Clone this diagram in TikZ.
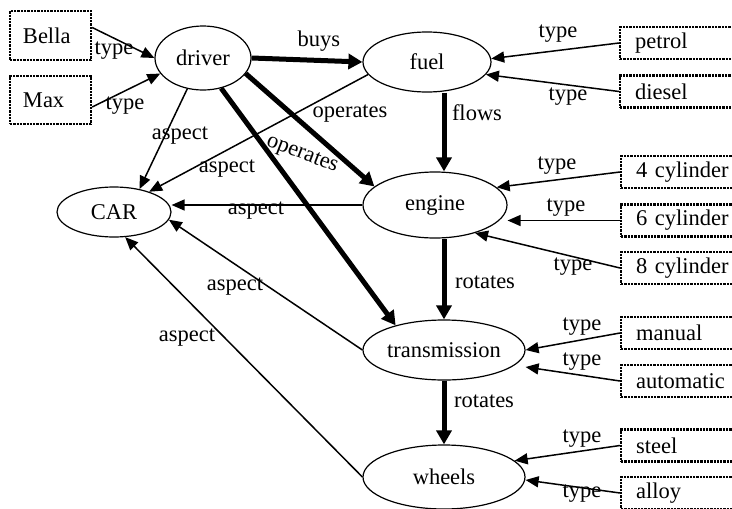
\documentclass[tikz,border=0pt]{standalone}
\usepackage{fontspec}
\setmainfont{Liberation Serif}
\usetikzlibrary{arrows.meta,shapes.geometric}
\tikzset{
  x=1pt, y=-1pt,
  every node/.style={font=\fontsize{22.5}{26}\selectfont},
  concept/.style={draw, ellipse, line width=1.2pt, inner sep=0pt},
  inst/.style={draw, line width=2.3pt, densely dotted, rectangle, inner ysep=0pt, align=left, minimum height=32pt},
  linst/.style={inst, text width=55pt, inner xsep=13pt, minimum height=49pt},
  rinst/.style={inst, text width=95pt, inner xsep=15pt},
  thin/.style={line width=1.5pt, -{Triangle[length=13pt,width=11pt]}},
  thick/.style={line width=5pt, -{Triangle[length=14pt,width=15pt]}},
  lbl/.style={inner sep=0pt}
}
\begin{document}
\begin{tikzpicture}
\clip (0,0) rectangle (732,509);
\useasboundingbox (0,0) rectangle (732,509);
% concepts
\node[concept, minimum width=96pt, minimum height=64pt] (driver) at (203,58) {driver};
\node[concept, minimum width=128pt, minimum height=60pt] (fuel) at (427,62) {fuel};
\node[concept, minimum width=114pt, minimum height=50pt] (CAR) at (114,212) {CAR};
\node[concept, minimum width=144pt, minimum height=66pt] (engine) at (435,205) {engine};
\node[concept, minimum width=162pt, minimum height=60pt] (trans) at (444,350) {transmission};
\node[concept, minimum width=162pt, minimum height=64pt] (wheels) at (444,477) {wheels};
% instances
\node[linst, minimum height=49pt] (bella) at (50.5,35.5) {Bella};
\node[linst, minimum height=48pt] (max) at (50.5,100) {Max};
\node[rinst, anchor=west] (petrol) at (619,43) {petrol};
\node[rinst, anchor=west] (diesel) at (619,91.5) {diesel};
\node[rinst, anchor=west] (cyl4) at (620,172) {4 cylinder};
\node[rinst, anchor=west] (cyl6) at (620,220.5) {6 cylinder};
\node[rinst, anchor=west] (cyl8) at (620,268) {8 cylinder};
\node[rinst, anchor=west] (manual) at (620,333) {manual};
\node[rinst, anchor=west] (auto) at (620,381) {automatic};
\node[rinst, anchor=west] (steel) at (620,445.5) {steel};
\node[rinst, anchor=west] (alloy) at (620,493) {alloy};
% type edges
\draw[thin] ([yshift=8pt]bella.east) -- (driver.west) node[lbl] at (114,51) {type};
\draw[thin] ([yshift=-7pt]max.east) -- (driver.200) node[lbl] at (125,106) {type};
\draw[thin] (petrol.west) -- (fuel.3) node[lbl] at (558,34) {type};
\draw[thin] (diesel.west) -- (fuel.348) node[lbl] at (568,97) {type};
\draw[thin] (cyl4.west) -- (engine.16) node[lbl] at (557,166) {type};
\draw[thin] (cyl6.west) -- (engine.east |- cyl6.west) node[lbl] at (566,208) {type};
\draw[thin] (cyl8.west) -- (engine.325) node[lbl] at (573,267) {type};
\draw[thin] (manual.west) -- (trans.east) node[lbl] at (582,327) {type};
\draw[thin] (auto.west) -- ([yshift=-17pt]trans.east) node[lbl] at (582,362) {type};
\draw[thin] (steel.west) -- (wheels.13) node[lbl] at (582,439) {type};
\draw[thin] (alloy.west) -- ([yshift=-3pt]wheels.east) node[lbl] at (582,494) {type};
% aspect edges
\draw[thin] (driver.243) -- (CAR.42) node[lbl] at (180,136) {aspect};
\draw[thin] (fuel.192) -- (CAR.30) node[lbl] at (227,169) {aspect};
\draw[thin] (engine.west) -- (CAR.east |- engine.west) node[lbl] at (256,211) {aspect};
\draw[thin] (trans.west) -- (CAR.352) node[lbl] at (235,287) {aspect};
\draw[thin] (wheels.west) -- (CAR.294) node[lbl] at (187,338) {aspect};
% thick edges
\draw[thick] (driver.east) -- (fuel.west) node[lbl] at (319,41) {buys};
\draw[thick] (driver.340) -- (engine.163) node[lbl] at (350,114) {operates};
\draw[thick] (driver.301) -- (trans.153) node[lbl, rotate=-21] at (302,155) {operates};
\draw[thick] (trans.north |- fuel.south) -- (trans.north |- engine.north) node[lbl] at (477,113) {flows};
\draw[thick] (trans.north |- engine.south) -- (trans.north) node[lbl] at (485,282) {rotates};
\draw[thick] (trans.south) -- (wheels.north) node[lbl] at (484,401) {rotates};
\end{tikzpicture}
\end{document}
